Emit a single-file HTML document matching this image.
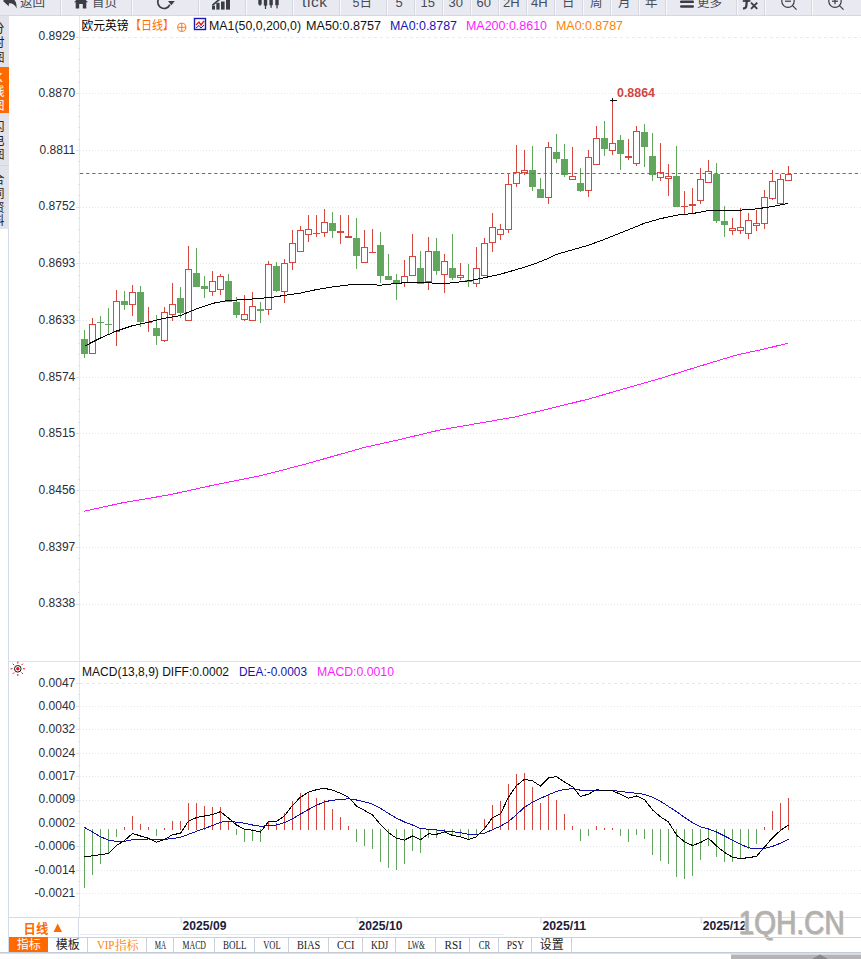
<!DOCTYPE html>
<html lang="zh"><head><meta charset="utf-8"><title>欧元英镑 日线</title>
<style>
html,body{margin:0;padding:0;background:#fff;}
body{width:861px;height:959px;overflow:hidden;position:relative;font-family:"Liberation Sans","Noto Sans CJK SC",sans-serif;}
#tb{position:absolute;left:0;top:0;width:861px;height:15px;background:#e9eaf1;border-bottom:1px solid #d6d8e0;overflow:hidden;}
#tb .sep{position:absolute;top:0;width:1px;height:15px;background:#d4d7df;border-right:1px solid #f8f9fb;}
#tb .t{position:absolute;font-size:13px;line-height:13px;color:#474b55;white-space:nowrap;}
#sb{position:absolute;left:0;top:16px;width:8.5px;height:213px;background:#e1e2ea;overflow:hidden;}
#sb .c{position:absolute;left:-7.6px;width:12px;font-size:12px;line-height:12px;color:#222;}
#sb .on{position:absolute;left:0;width:8.5px;top:51px;height:46px;background:#ff6a00;}
svg{position:absolute;left:0;top:0;}
.tab{position:absolute;top:937px;height:15px;box-sizing:border-box;border-right:1px solid #c9d1dc;font-family:"Liberation Mono","Noto Sans CJK SC",monospace;font-size:12px;line-height:15px;padding-top:1.5px;text-align:center;color:#222;white-space:nowrap;letter-spacing:-1.2px;}
.tab.cj{font-family:"Liberation Sans","Noto Sans CJK SC",sans-serif;letter-spacing:0;font-size:12px;padding-top:1px;}
</style></head><body>

<svg width="861" height="959" viewBox="0 0 861 959" font-family="'Liberation Sans','Noto Sans CJK SC',sans-serif">
<g stroke="#d3dbe6" stroke-width="1" fill="none" shape-rendering="crispEdges">
<line x1="8.5" y1="229" x2="8.5" y2="953"/>
<line x1="79.5" y1="16" x2="79.5" y2="917" stroke="#e2e8ef"/>
<line x1="9" y1="661.5" x2="861" y2="661.5" stroke="#dce3eb"/>
<line x1="9" y1="917.5" x2="861" y2="917.5"/>
<line x1="79.5" y1="934.5" x2="504" y2="934.5" stroke="#e6ebf1"/>
<line x1="78.5" y1="917" x2="78.5" y2="937"/>
</g>
<g stroke="#e2e7ed" stroke-width="1" fill="none">
<line x1="80" y1="37.5" x2="861" y2="37.5" stroke-dasharray="3 3" stroke="#e8ecf1"/>
<line x1="80" y1="93.5" x2="861" y2="93.5" stroke-dasharray="1 2"/>
<line x1="80" y1="150.5" x2="861" y2="150.5" stroke-dasharray="1 2"/>
<line x1="80" y1="207.5" x2="861" y2="207.5" stroke-dasharray="1 2"/>
<line x1="80" y1="263.5" x2="861" y2="263.5" stroke-dasharray="1 2"/>
<line x1="80" y1="320.5" x2="861" y2="320.5" stroke-dasharray="1 2"/>
<line x1="80" y1="377.5" x2="861" y2="377.5" stroke-dasharray="1 2"/>
<line x1="80" y1="433.5" x2="861" y2="433.5" stroke-dasharray="1 2"/>
<line x1="80" y1="490.5" x2="861" y2="490.5" stroke-dasharray="1 2"/>
<line x1="80" y1="547.5" x2="861" y2="547.5" stroke-dasharray="1 2"/>
<line x1="80" y1="604.5" x2="861" y2="604.5" stroke-dasharray="1 2"/>
<line x1="80" y1="683.5" x2="861" y2="683.5" stroke-dasharray="3 3"/>
<line x1="80" y1="706.5" x2="861" y2="706.5" stroke-dasharray="1 2"/>
<line x1="80" y1="729.5" x2="861" y2="729.5" stroke-dasharray="1 2"/>
<line x1="80" y1="753.5" x2="861" y2="753.5" stroke-dasharray="1 2"/>
<line x1="80" y1="776.5" x2="861" y2="776.5" stroke-dasharray="1 2"/>
<line x1="80" y1="800.5" x2="861" y2="800.5" stroke-dasharray="1 2"/>
<line x1="80" y1="823.5" x2="861" y2="823.5" stroke-dasharray="1 2"/>
<line x1="80" y1="846.5" x2="861" y2="846.5" stroke-dasharray="1 2"/>
<line x1="80" y1="870.5" x2="861" y2="870.5" stroke-dasharray="1 2"/>
<line x1="80" y1="893.5" x2="861" y2="893.5" stroke-dasharray="1 2"/>
</g>
<g stroke="#dbe2ea" stroke-width="1" shape-rendering="crispEdges">
<line x1="76" y1="37.5" x2="80" y2="37.5"/>
<line x1="77.5" y1="48.5" x2="80" y2="48.5"/>
<line x1="77.5" y1="59.5" x2="80" y2="59.5"/>
<line x1="77.5" y1="71.5" x2="80" y2="71.5"/>
<line x1="77.5" y1="82.5" x2="80" y2="82.5"/>
<line x1="76" y1="93.5" x2="80" y2="93.5"/>
<line x1="77.5" y1="105.5" x2="80" y2="105.5"/>
<line x1="77.5" y1="116.5" x2="80" y2="116.5"/>
<line x1="77.5" y1="127.5" x2="80" y2="127.5"/>
<line x1="77.5" y1="139.5" x2="80" y2="139.5"/>
<line x1="76" y1="150.5" x2="80" y2="150.5"/>
<line x1="77.5" y1="161.5" x2="80" y2="161.5"/>
<line x1="77.5" y1="173.5" x2="80" y2="173.5"/>
<line x1="77.5" y1="184.5" x2="80" y2="184.5"/>
<line x1="77.5" y1="195.5" x2="80" y2="195.5"/>
<line x1="76" y1="207.5" x2="80" y2="207.5"/>
<line x1="77.5" y1="218.5" x2="80" y2="218.5"/>
<line x1="77.5" y1="229.5" x2="80" y2="229.5"/>
<line x1="77.5" y1="241.5" x2="80" y2="241.5"/>
<line x1="77.5" y1="252.5" x2="80" y2="252.5"/>
<line x1="76" y1="263.5" x2="80" y2="263.5"/>
<line x1="77.5" y1="275.5" x2="80" y2="275.5"/>
<line x1="77.5" y1="286.5" x2="80" y2="286.5"/>
<line x1="77.5" y1="297.5" x2="80" y2="297.5"/>
<line x1="77.5" y1="309.5" x2="80" y2="309.5"/>
<line x1="76" y1="320.5" x2="80" y2="320.5"/>
<line x1="77.5" y1="331.5" x2="80" y2="331.5"/>
<line x1="77.5" y1="343.5" x2="80" y2="343.5"/>
<line x1="77.5" y1="354.5" x2="80" y2="354.5"/>
<line x1="77.5" y1="365.5" x2="80" y2="365.5"/>
<line x1="76" y1="377.5" x2="80" y2="377.5"/>
<line x1="77.5" y1="388.5" x2="80" y2="388.5"/>
<line x1="77.5" y1="399.5" x2="80" y2="399.5"/>
<line x1="77.5" y1="411.5" x2="80" y2="411.5"/>
<line x1="77.5" y1="422.5" x2="80" y2="422.5"/>
<line x1="76" y1="433.5" x2="80" y2="433.5"/>
<line x1="77.5" y1="445.5" x2="80" y2="445.5"/>
<line x1="77.5" y1="456.5" x2="80" y2="456.5"/>
<line x1="77.5" y1="467.5" x2="80" y2="467.5"/>
<line x1="77.5" y1="479.5" x2="80" y2="479.5"/>
<line x1="76" y1="490.5" x2="80" y2="490.5"/>
<line x1="77.5" y1="501.5" x2="80" y2="501.5"/>
<line x1="77.5" y1="513.5" x2="80" y2="513.5"/>
<line x1="77.5" y1="524.5" x2="80" y2="524.5"/>
<line x1="77.5" y1="535.5" x2="80" y2="535.5"/>
<line x1="76" y1="547.5" x2="80" y2="547.5"/>
<line x1="77.5" y1="558.5" x2="80" y2="558.5"/>
<line x1="77.5" y1="569.5" x2="80" y2="569.5"/>
<line x1="77.5" y1="581.5" x2="80" y2="581.5"/>
<line x1="77.5" y1="592.5" x2="80" y2="592.5"/>
<line x1="76" y1="604.5" x2="80" y2="604.5"/>
<line x1="76" y1="683.5" x2="80" y2="683.5"/>
<line x1="77.5" y1="694.5" x2="80" y2="694.5"/>
<line x1="76" y1="706.5" x2="80" y2="706.5"/>
<line x1="77.5" y1="718.5" x2="80" y2="718.5"/>
<line x1="76" y1="729.5" x2="80" y2="729.5"/>
<line x1="77.5" y1="741.5" x2="80" y2="741.5"/>
<line x1="76" y1="753.5" x2="80" y2="753.5"/>
<line x1="77.5" y1="765.5" x2="80" y2="765.5"/>
<line x1="76" y1="776.5" x2="80" y2="776.5"/>
<line x1="77.5" y1="788.5" x2="80" y2="788.5"/>
<line x1="76" y1="800.5" x2="80" y2="800.5"/>
<line x1="77.5" y1="811.5" x2="80" y2="811.5"/>
<line x1="76" y1="823.5" x2="80" y2="823.5"/>
<line x1="77.5" y1="835.5" x2="80" y2="835.5"/>
<line x1="76" y1="846.5" x2="80" y2="846.5"/>
<line x1="77.5" y1="858.5" x2="80" y2="858.5"/>
<line x1="76" y1="870.5" x2="80" y2="870.5"/>
<line x1="77.5" y1="881.5" x2="80" y2="881.5"/>
<line x1="76" y1="893.5" x2="80" y2="893.5"/>
<line x1="77.5" y1="905.5" x2="80" y2="905.5"/>
</g>
<polyline fill="none" stroke="#ff1aff" stroke-width="1" shape-rendering="crispEdges" points="84.4,511.2 122.5,502.8 168.9,494.9 215.4,484.7 261.8,475.4 285.1,469.4 308.3,463.3 336.2,455.4 364.0,447.5 401.2,439.2 438.4,430.3 477.2,423.5 514.3,417.1 551.5,408.2 588.7,399.0 625.8,388.3 663.0,377.6 700.2,366.0 737.3,354.8 765.2,348.8 788.0,343.2"/>
<g shape-rendering="crispEdges">
<rect x="84.0" y="330" width="1" height="28" fill="#61a65d"/>
<rect x="81.0" y="339" width="7" height="15" fill="#61a65d"/>
<rect x="92.0" y="318" width="1" height="6" fill="#d4463e"/>
<rect x="89.5" y="324.5" width="6" height="29" fill="#fff" stroke="#d4463e" stroke-width="1"/>
<rect x="100.0" y="316" width="1" height="21" fill="#61a65d"/>
<rect x="97.0" y="322" width="7" height="1" fill="#61a65d"/>
<rect x="108.0" y="308" width="1" height="26" fill="#61a65d"/>
<rect x="105.0" y="324" width="7" height="1" fill="#61a65d"/>
<rect x="116.0" y="290" width="1" height="11" fill="#d4463e"/>
<rect x="116.0" y="332" width="1" height="14" fill="#d4463e"/>
<rect x="113.5" y="301.5" width="6" height="30" fill="#fff" stroke="#d4463e" stroke-width="1"/>
<rect x="124.0" y="291" width="1" height="19" fill="#61a65d"/>
<rect x="121.0" y="301" width="7" height="4" fill="#61a65d"/>
<rect x="132.0" y="285" width="1" height="7" fill="#d4463e"/>
<rect x="132.0" y="305" width="1" height="11" fill="#d4463e"/>
<rect x="129.5" y="292.5" width="6" height="12" fill="#fff" stroke="#d4463e" stroke-width="1"/>
<rect x="140.0" y="286" width="1" height="41" fill="#61a65d"/>
<rect x="137.0" y="292" width="7" height="30" fill="#61a65d"/>
<rect x="148.0" y="307" width="1" height="15" fill="#d4463e"/>
<rect x="148.0" y="323" width="1" height="9" fill="#d4463e"/>
<rect x="145.0" y="322" width="7" height="1" fill="#d4463e"/>
<rect x="156.0" y="315" width="1" height="30" fill="#61a65d"/>
<rect x="153.0" y="328" width="7" height="8" fill="#61a65d"/>
<rect x="164.0" y="307" width="1" height="5" fill="#d4463e"/>
<rect x="164.0" y="341" width="1" height="1" fill="#d4463e"/>
<rect x="161.5" y="312.5" width="6" height="28" fill="#fff" stroke="#d4463e" stroke-width="1"/>
<rect x="172.0" y="283" width="1" height="21" fill="#d4463e"/>
<rect x="172.0" y="315" width="1" height="6" fill="#d4463e"/>
<rect x="169.5" y="304.5" width="6" height="10" fill="#fff" stroke="#d4463e" stroke-width="1"/>
<rect x="180.0" y="287" width="1" height="31" fill="#61a65d"/>
<rect x="177.0" y="298" width="7" height="15" fill="#61a65d"/>
<rect x="188.0" y="246" width="1" height="23" fill="#d4463e"/>
<rect x="185.5" y="269.5" width="6" height="51" fill="#fff" stroke="#d4463e" stroke-width="1"/>
<rect x="196.0" y="248" width="1" height="39" fill="#61a65d"/>
<rect x="193.0" y="273" width="7" height="14" fill="#61a65d"/>
<rect x="204.0" y="276" width="1" height="22" fill="#61a65d"/>
<rect x="201.0" y="286" width="7" height="3" fill="#61a65d"/>
<rect x="212.0" y="271" width="1" height="10" fill="#d4463e"/>
<rect x="212.0" y="292" width="1" height="4" fill="#d4463e"/>
<rect x="209.5" y="281.5" width="6" height="10" fill="#fff" stroke="#d4463e" stroke-width="1"/>
<rect x="220.0" y="274" width="1" height="2" fill="#d4463e"/>
<rect x="220.0" y="290" width="1" height="5" fill="#d4463e"/>
<rect x="217.5" y="276.5" width="6" height="13" fill="#fff" stroke="#d4463e" stroke-width="1"/>
<rect x="228.0" y="274" width="1" height="28" fill="#61a65d"/>
<rect x="225.0" y="281" width="7" height="21" fill="#61a65d"/>
<rect x="236.0" y="297" width="1" height="21" fill="#61a65d"/>
<rect x="233.0" y="302" width="7" height="13" fill="#61a65d"/>
<rect x="244.0" y="295" width="1" height="19" fill="#d4463e"/>
<rect x="244.0" y="320" width="1" height="1" fill="#d4463e"/>
<rect x="241.5" y="314.5" width="6" height="5" fill="#fff" stroke="#d4463e" stroke-width="1"/>
<rect x="252.0" y="292" width="1" height="14" fill="#d4463e"/>
<rect x="249.5" y="306.5" width="6" height="14" fill="#fff" stroke="#d4463e" stroke-width="1"/>
<rect x="260.0" y="302" width="1" height="21" fill="#61a65d"/>
<rect x="257.0" y="309" width="7" height="2" fill="#61a65d"/>
<rect x="268.0" y="261" width="1" height="3" fill="#d4463e"/>
<rect x="268.0" y="310" width="1" height="5" fill="#d4463e"/>
<rect x="265.5" y="264.5" width="6" height="45" fill="#fff" stroke="#d4463e" stroke-width="1"/>
<rect x="276.0" y="262" width="1" height="30" fill="#61a65d"/>
<rect x="273.0" y="266" width="7" height="25" fill="#61a65d"/>
<rect x="284.0" y="259" width="1" height="4" fill="#d4463e"/>
<rect x="284.0" y="292" width="1" height="11" fill="#d4463e"/>
<rect x="281.5" y="263.5" width="6" height="28" fill="#fff" stroke="#d4463e" stroke-width="1"/>
<rect x="292.0" y="230" width="1" height="13" fill="#d4463e"/>
<rect x="292.0" y="263" width="1" height="7" fill="#d4463e"/>
<rect x="289.5" y="243.5" width="6" height="19" fill="#fff" stroke="#d4463e" stroke-width="1"/>
<rect x="300.0" y="226" width="1" height="4" fill="#d4463e"/>
<rect x="297.5" y="230.5" width="6" height="21" fill="#fff" stroke="#d4463e" stroke-width="1"/>
<rect x="308.0" y="215" width="1" height="14" fill="#d4463e"/>
<rect x="308.0" y="235" width="1" height="7" fill="#d4463e"/>
<rect x="305.5" y="229.5" width="6" height="5" fill="#fff" stroke="#d4463e" stroke-width="1"/>
<rect x="316.0" y="215" width="1" height="18" fill="#d4463e"/>
<rect x="316.0" y="234" width="1" height="3" fill="#d4463e"/>
<rect x="313.0" y="233" width="7" height="1" fill="#d4463e"/>
<rect x="324.0" y="209" width="1" height="13" fill="#d4463e"/>
<rect x="324.0" y="233" width="1" height="4" fill="#d4463e"/>
<rect x="321.5" y="222.5" width="6" height="10" fill="#fff" stroke="#d4463e" stroke-width="1"/>
<rect x="332.0" y="212" width="1" height="26" fill="#61a65d"/>
<rect x="329.0" y="223" width="7" height="8" fill="#61a65d"/>
<rect x="340.0" y="215" width="1" height="16" fill="#d4463e"/>
<rect x="340.0" y="233" width="1" height="11" fill="#d4463e"/>
<rect x="337.0" y="231" width="7" height="2" fill="#d4463e"/>
<rect x="348.0" y="215" width="1" height="21" fill="#d4463e"/>
<rect x="345.0" y="236" width="7" height="2" fill="#d4463e"/>
<rect x="356.0" y="218" width="1" height="51" fill="#61a65d"/>
<rect x="353.0" y="238" width="7" height="18" fill="#61a65d"/>
<rect x="364.0" y="230" width="1" height="17" fill="#d4463e"/>
<rect x="361.5" y="247.5" width="6" height="15" fill="#fff" stroke="#d4463e" stroke-width="1"/>
<rect x="372.0" y="229" width="1" height="23" fill="#d4463e"/>
<rect x="369.0" y="252" width="7" height="1" fill="#d4463e"/>
<rect x="380.0" y="232" width="1" height="51" fill="#61a65d"/>
<rect x="377.0" y="245" width="7" height="31" fill="#61a65d"/>
<rect x="388.0" y="254" width="1" height="26" fill="#61a65d"/>
<rect x="385.0" y="276" width="7" height="4" fill="#61a65d"/>
<rect x="396.0" y="274" width="1" height="26" fill="#61a65d"/>
<rect x="393.0" y="280" width="7" height="3" fill="#61a65d"/>
<rect x="404.0" y="260" width="1" height="16" fill="#d4463e"/>
<rect x="404.0" y="283" width="1" height="4" fill="#d4463e"/>
<rect x="401.5" y="276.5" width="6" height="6" fill="#fff" stroke="#d4463e" stroke-width="1"/>
<rect x="412.0" y="234" width="1" height="22" fill="#d4463e"/>
<rect x="409.5" y="256.5" width="6" height="19" fill="#fff" stroke="#d4463e" stroke-width="1"/>
<rect x="420.0" y="251" width="1" height="33" fill="#61a65d"/>
<rect x="417.0" y="268" width="7" height="16" fill="#61a65d"/>
<rect x="428.0" y="237" width="1" height="14" fill="#d4463e"/>
<rect x="428.0" y="282" width="1" height="8" fill="#d4463e"/>
<rect x="425.5" y="251.5" width="6" height="30" fill="#fff" stroke="#d4463e" stroke-width="1"/>
<rect x="436.0" y="238" width="1" height="37" fill="#61a65d"/>
<rect x="433.0" y="251" width="7" height="20" fill="#61a65d"/>
<rect x="444.0" y="254" width="1" height="7" fill="#d4463e"/>
<rect x="444.0" y="275" width="1" height="18" fill="#d4463e"/>
<rect x="441.5" y="261.5" width="6" height="13" fill="#fff" stroke="#d4463e" stroke-width="1"/>
<rect x="452.0" y="234" width="1" height="46" fill="#61a65d"/>
<rect x="449.0" y="268" width="7" height="10" fill="#61a65d"/>
<rect x="460.0" y="263" width="1" height="12" fill="#d4463e"/>
<rect x="460.0" y="278" width="1" height="2" fill="#d4463e"/>
<rect x="457.5" y="275.5" width="6" height="2" fill="#fff" stroke="#d4463e" stroke-width="1"/>
<rect x="468.0" y="264" width="1" height="23" fill="#61a65d"/>
<rect x="465.0" y="280" width="7" height="2" fill="#61a65d"/>
<rect x="476.0" y="247" width="1" height="21" fill="#d4463e"/>
<rect x="476.0" y="284" width="1" height="3" fill="#d4463e"/>
<rect x="473.5" y="268.5" width="6" height="15" fill="#fff" stroke="#d4463e" stroke-width="1"/>
<rect x="484.0" y="238" width="1" height="5" fill="#d4463e"/>
<rect x="481.5" y="243.5" width="6" height="32" fill="#fff" stroke="#d4463e" stroke-width="1"/>
<rect x="492.0" y="213" width="1" height="14" fill="#d4463e"/>
<rect x="492.0" y="243" width="1" height="9" fill="#d4463e"/>
<rect x="489.5" y="227.5" width="6" height="15" fill="#fff" stroke="#d4463e" stroke-width="1"/>
<rect x="500.0" y="224" width="1" height="5" fill="#d4463e"/>
<rect x="500.0" y="235" width="1" height="5" fill="#d4463e"/>
<rect x="497.5" y="229.5" width="6" height="5" fill="#fff" stroke="#d4463e" stroke-width="1"/>
<rect x="508.0" y="174" width="1" height="10" fill="#d4463e"/>
<rect x="508.0" y="230" width="1" height="3" fill="#d4463e"/>
<rect x="505.5" y="184.5" width="6" height="45" fill="#fff" stroke="#d4463e" stroke-width="1"/>
<rect x="516.0" y="145" width="1" height="27" fill="#d4463e"/>
<rect x="516.0" y="184" width="1" height="3" fill="#d4463e"/>
<rect x="513.5" y="172.5" width="6" height="11" fill="#fff" stroke="#d4463e" stroke-width="1"/>
<rect x="524.0" y="150" width="1" height="20" fill="#d4463e"/>
<rect x="524.0" y="173" width="1" height="2" fill="#d4463e"/>
<rect x="521.5" y="170.5" width="6" height="2" fill="#fff" stroke="#d4463e" stroke-width="1"/>
<rect x="532.0" y="146" width="1" height="45" fill="#61a65d"/>
<rect x="529.0" y="170" width="7" height="17" fill="#61a65d"/>
<rect x="540.0" y="178" width="1" height="20" fill="#61a65d"/>
<rect x="537.0" y="189" width="7" height="9" fill="#61a65d"/>
<rect x="548.0" y="142" width="1" height="5" fill="#d4463e"/>
<rect x="548.0" y="198" width="1" height="6" fill="#d4463e"/>
<rect x="545.5" y="147.5" width="6" height="50" fill="#fff" stroke="#d4463e" stroke-width="1"/>
<rect x="556.0" y="134" width="1" height="29" fill="#61a65d"/>
<rect x="553.0" y="152" width="7" height="7" fill="#61a65d"/>
<rect x="564.0" y="144" width="1" height="33" fill="#61a65d"/>
<rect x="561.0" y="159" width="7" height="16" fill="#61a65d"/>
<rect x="572.0" y="147" width="1" height="29" fill="#d4463e"/>
<rect x="569.5" y="176.5" width="6" height="3" fill="#fff" stroke="#d4463e" stroke-width="1"/>
<rect x="580.0" y="168" width="1" height="24" fill="#61a65d"/>
<rect x="577.0" y="183" width="7" height="8" fill="#61a65d"/>
<rect x="588.0" y="150" width="1" height="7" fill="#d4463e"/>
<rect x="588.0" y="191" width="1" height="6" fill="#d4463e"/>
<rect x="585.5" y="157.5" width="6" height="33" fill="#fff" stroke="#d4463e" stroke-width="1"/>
<rect x="596.0" y="126" width="1" height="12" fill="#d4463e"/>
<rect x="593.5" y="138.5" width="6" height="26" fill="#fff" stroke="#d4463e" stroke-width="1"/>
<rect x="604.0" y="121" width="1" height="35" fill="#61a65d"/>
<rect x="601.0" y="138" width="7" height="11" fill="#61a65d"/>
<rect x="612.0" y="100" width="1" height="43" fill="#d4463e"/>
<rect x="612.0" y="151" width="1" height="4" fill="#d4463e"/>
<rect x="609.5" y="143.5" width="6" height="7" fill="#fff" stroke="#d4463e" stroke-width="1"/>
<rect x="620.0" y="135" width="1" height="35" fill="#61a65d"/>
<rect x="617.0" y="140" width="7" height="14" fill="#61a65d"/>
<rect x="628.0" y="139" width="1" height="17" fill="#d4463e"/>
<rect x="628.0" y="158" width="1" height="2" fill="#d4463e"/>
<rect x="625.0" y="156" width="7" height="2" fill="#d4463e"/>
<rect x="636.0" y="126" width="1" height="5" fill="#d4463e"/>
<rect x="636.0" y="164" width="1" height="2" fill="#d4463e"/>
<rect x="633.5" y="131.5" width="6" height="32" fill="#fff" stroke="#d4463e" stroke-width="1"/>
<rect x="644.0" y="124" width="1" height="43" fill="#61a65d"/>
<rect x="641.0" y="132" width="7" height="15" fill="#61a65d"/>
<rect x="652.0" y="133" width="1" height="48" fill="#61a65d"/>
<rect x="649.0" y="156" width="7" height="19" fill="#61a65d"/>
<rect x="660.0" y="143" width="1" height="29" fill="#d4463e"/>
<rect x="660.0" y="178" width="1" height="3" fill="#d4463e"/>
<rect x="657.5" y="172.5" width="6" height="5" fill="#fff" stroke="#d4463e" stroke-width="1"/>
<rect x="668.0" y="164" width="1" height="12" fill="#d4463e"/>
<rect x="668.0" y="179" width="1" height="17" fill="#d4463e"/>
<rect x="665.5" y="176.5" width="6" height="2" fill="#fff" stroke="#d4463e" stroke-width="1"/>
<rect x="676.0" y="146" width="1" height="61" fill="#61a65d"/>
<rect x="673.0" y="176" width="7" height="31" fill="#61a65d"/>
<rect x="684.0" y="191" width="1" height="15" fill="#d4463e"/>
<rect x="684.0" y="207" width="1" height="7" fill="#d4463e"/>
<rect x="681.0" y="206" width="7" height="1" fill="#d4463e"/>
<rect x="692.0" y="188" width="1" height="16" fill="#d4463e"/>
<rect x="692.0" y="206" width="1" height="8" fill="#d4463e"/>
<rect x="689.0" y="204" width="7" height="2" fill="#d4463e"/>
<rect x="700.0" y="168" width="1" height="11" fill="#d4463e"/>
<rect x="700.0" y="201" width="1" height="3" fill="#d4463e"/>
<rect x="697.5" y="179.5" width="6" height="21" fill="#fff" stroke="#d4463e" stroke-width="1"/>
<rect x="708.0" y="160" width="1" height="11" fill="#d4463e"/>
<rect x="705.5" y="171.5" width="6" height="11" fill="#fff" stroke="#d4463e" stroke-width="1"/>
<rect x="716.0" y="163" width="1" height="60" fill="#61a65d"/>
<rect x="713.0" y="174" width="7" height="47" fill="#61a65d"/>
<rect x="724.0" y="206" width="1" height="31" fill="#61a65d"/>
<rect x="721.0" y="221" width="7" height="4" fill="#61a65d"/>
<rect x="732.0" y="218" width="1" height="10" fill="#d4463e"/>
<rect x="732.0" y="231" width="1" height="4" fill="#d4463e"/>
<rect x="729.5" y="228.5" width="6" height="2" fill="#fff" stroke="#d4463e" stroke-width="1"/>
<rect x="740.0" y="208" width="1" height="19" fill="#d4463e"/>
<rect x="740.0" y="231" width="1" height="3" fill="#d4463e"/>
<rect x="737.5" y="227.5" width="6" height="3" fill="#fff" stroke="#d4463e" stroke-width="1"/>
<rect x="748.0" y="213" width="1" height="7" fill="#d4463e"/>
<rect x="748.0" y="234" width="1" height="5" fill="#d4463e"/>
<rect x="745.5" y="220.5" width="6" height="13" fill="#fff" stroke="#d4463e" stroke-width="1"/>
<rect x="756.0" y="210" width="1" height="13" fill="#d4463e"/>
<rect x="756.0" y="226" width="1" height="5" fill="#d4463e"/>
<rect x="753.5" y="223.5" width="6" height="2" fill="#fff" stroke="#d4463e" stroke-width="1"/>
<rect x="764.0" y="190" width="1" height="7" fill="#d4463e"/>
<rect x="764.0" y="224" width="1" height="5" fill="#d4463e"/>
<rect x="761.5" y="197.5" width="6" height="26" fill="#fff" stroke="#d4463e" stroke-width="1"/>
<rect x="772.0" y="170" width="1" height="11" fill="#d4463e"/>
<rect x="772.0" y="199" width="1" height="1" fill="#d4463e"/>
<rect x="769.5" y="181.5" width="6" height="17" fill="#fff" stroke="#d4463e" stroke-width="1"/>
<rect x="780.0" y="174" width="1" height="5" fill="#d4463e"/>
<rect x="777.5" y="179.5" width="6" height="24" fill="#fff" stroke="#d4463e" stroke-width="1"/>
<rect x="788.0" y="166" width="1" height="8" fill="#d4463e"/>
<rect x="785.5" y="174.5" width="6" height="6" fill="#fff" stroke="#d4463e" stroke-width="1"/>
</g>
<line x1="80" y1="173.5" x2="861" y2="173.5" stroke="#1a7ff0" stroke-width="1.2" stroke-dasharray="3.3 2.8"/>
<polyline fill="none" stroke="#000" stroke-width="1" shape-rendering="crispEdges" points="84.6,346.1 100.4,338.0 116.6,331.0 132.4,325.7 148.5,322.2 164.3,318.3 180.5,315.5 196.3,309.0 212.4,303.4 228.4,300.4 244.4,299.7 260.4,298.3 272.3,297.3 284.3,295.4 300.4,293.1 316.4,289.6 332.4,286.9 352.4,284.5 367.5,284.5 380.5,285.2 396.3,283.4 412.3,282.2 428.4,282.9 444.4,283.4 452.3,282.8 468.3,280.9 484.3,277.7 500.3,274.2 516.4,269.6 532.4,264.7 548.4,258.4 556.3,254.5 572.4,249.8 588.4,245.2 604.4,239.4 620.4,232.9 628.3,229.8 644.3,223.3 660.4,218.7 676.4,215.2 692.4,213.6 708.4,210.5 724.5,210.5 740.5,210.1 756.3,208.9 772.3,206.6 788.0,203.3"/>
<g stroke="#111" stroke-width="1" shape-rendering="crispEdges"><line x1="610" y1="100.5" x2="617" y2="100.5"/><line x1="612.5" y1="98" x2="612.5" y2="102"/></g>
<text x="617" y="97" font-size="12" font-weight="bold" fill="#d0453f" textLength="38" lengthAdjust="spacingAndGlyphs">0.8864</text>
<g shape-rendering="crispEdges">
<rect x="84.0" y="829" width="1" height="59" fill="#61a65d"/>
<rect x="92.0" y="829" width="1" height="46" fill="#61a65d"/>
<rect x="100.0" y="829" width="1" height="35" fill="#61a65d"/>
<rect x="108.0" y="829" width="1" height="25" fill="#61a65d"/>
<rect x="116.0" y="829" width="1" height="8" fill="#61a65d"/>
<rect x="124.0" y="827" width="1" height="3" fill="#d4463e"/>
<rect x="132.0" y="816" width="1" height="14" fill="#d4463e"/>
<rect x="140.0" y="824" width="1" height="6" fill="#d4463e"/>
<rect x="148.0" y="827" width="1" height="3" fill="#d4463e"/>
<rect x="156.0" y="829" width="1" height="7" fill="#61a65d"/>
<rect x="164.0" y="828" width="1" height="2" fill="#d4463e"/>
<rect x="172.0" y="821" width="1" height="9" fill="#d4463e"/>
<rect x="180.0" y="821" width="1" height="9" fill="#d4463e"/>
<rect x="188.0" y="803" width="1" height="27" fill="#d4463e"/>
<rect x="196.0" y="803" width="1" height="27" fill="#d4463e"/>
<rect x="204.0" y="806" width="1" height="24" fill="#d4463e"/>
<rect x="212.0" y="807" width="1" height="23" fill="#d4463e"/>
<rect x="220.0" y="807" width="1" height="23" fill="#d4463e"/>
<rect x="228.0" y="821" width="1" height="9" fill="#d4463e"/>
<rect x="236.0" y="829" width="1" height="6" fill="#61a65d"/>
<rect x="244.0" y="829" width="1" height="13" fill="#61a65d"/>
<rect x="252.0" y="829" width="1" height="12" fill="#61a65d"/>
<rect x="260.0" y="829" width="1" height="13" fill="#61a65d"/>
<rect x="268.0" y="821" width="1" height="9" fill="#d4463e"/>
<rect x="276.0" y="823" width="1" height="7" fill="#d4463e"/>
<rect x="284.0" y="813" width="1" height="17" fill="#d4463e"/>
<rect x="292.0" y="801" width="1" height="29" fill="#d4463e"/>
<rect x="300.0" y="793" width="1" height="37" fill="#d4463e"/>
<rect x="308.0" y="792" width="1" height="38" fill="#d4463e"/>
<rect x="316.0" y="798" width="1" height="32" fill="#d4463e"/>
<rect x="324.0" y="800" width="1" height="30" fill="#d4463e"/>
<rect x="332.0" y="809" width="1" height="21" fill="#d4463e"/>
<rect x="340.0" y="817" width="1" height="13" fill="#d4463e"/>
<rect x="348.0" y="826" width="1" height="4" fill="#d4463e"/>
<rect x="356.0" y="829" width="1" height="13" fill="#61a65d"/>
<rect x="364.0" y="829" width="1" height="17" fill="#61a65d"/>
<rect x="372.0" y="829" width="1" height="20" fill="#61a65d"/>
<rect x="380.0" y="829" width="1" height="33" fill="#61a65d"/>
<rect x="388.0" y="829" width="1" height="39" fill="#61a65d"/>
<rect x="396.0" y="829" width="1" height="41" fill="#61a65d"/>
<rect x="404.0" y="829" width="1" height="35" fill="#61a65d"/>
<rect x="412.0" y="829" width="1" height="22" fill="#61a65d"/>
<rect x="420.0" y="829" width="1" height="24" fill="#61a65d"/>
<rect x="428.0" y="829" width="1" height="9" fill="#61a65d"/>
<rect x="436.0" y="829" width="1" height="9" fill="#61a65d"/>
<rect x="444.0" y="829" width="1" height="4" fill="#61a65d"/>
<rect x="452.0" y="829" width="1" height="7" fill="#61a65d"/>
<rect x="460.0" y="829" width="1" height="8" fill="#61a65d"/>
<rect x="468.0" y="829" width="1" height="10" fill="#61a65d"/>
<rect x="476.0" y="829" width="1" height="5" fill="#61a65d"/>
<rect x="484.0" y="819" width="1" height="11" fill="#d4463e"/>
<rect x="492.0" y="805" width="1" height="25" fill="#d4463e"/>
<rect x="500.0" y="801" width="1" height="29" fill="#d4463e"/>
<rect x="508.0" y="784" width="1" height="46" fill="#d4463e"/>
<rect x="516.0" y="774" width="1" height="56" fill="#d4463e"/>
<rect x="524.0" y="773" width="1" height="57" fill="#d4463e"/>
<rect x="532.0" y="787" width="1" height="43" fill="#d4463e"/>
<rect x="540.0" y="803" width="1" height="27" fill="#d4463e"/>
<rect x="548.0" y="795" width="1" height="35" fill="#d4463e"/>
<rect x="556.0" y="800" width="1" height="30" fill="#d4463e"/>
<rect x="564.0" y="814" width="1" height="16" fill="#d4463e"/>
<rect x="572.0" y="826" width="1" height="4" fill="#d4463e"/>
<rect x="580.0" y="829" width="1" height="12" fill="#61a65d"/>
<rect x="588.0" y="829" width="1" height="7" fill="#61a65d"/>
<rect x="596.0" y="826" width="1" height="4" fill="#d4463e"/>
<rect x="604.0" y="828" width="1" height="2" fill="#d4463e"/>
<rect x="612.0" y="828" width="1" height="2" fill="#d4463e"/>
<rect x="620.0" y="829" width="1" height="7" fill="#61a65d"/>
<rect x="628.0" y="829" width="1" height="13" fill="#61a65d"/>
<rect x="636.0" y="829" width="1" height="6" fill="#61a65d"/>
<rect x="644.0" y="829" width="1" height="10" fill="#61a65d"/>
<rect x="652.0" y="829" width="1" height="26" fill="#61a65d"/>
<rect x="660.0" y="829" width="1" height="32" fill="#61a65d"/>
<rect x="668.0" y="829" width="1" height="35" fill="#61a65d"/>
<rect x="676.0" y="829" width="1" height="48" fill="#61a65d"/>
<rect x="684.0" y="829" width="1" height="50" fill="#61a65d"/>
<rect x="692.0" y="829" width="1" height="47" fill="#61a65d"/>
<rect x="700.0" y="829" width="1" height="31" fill="#61a65d"/>
<rect x="708.0" y="829" width="1" height="17" fill="#61a65d"/>
<rect x="716.0" y="829" width="1" height="28" fill="#61a65d"/>
<rect x="724.0" y="829" width="1" height="33" fill="#61a65d"/>
<rect x="732.0" y="829" width="1" height="33" fill="#61a65d"/>
<rect x="740.0" y="829" width="1" height="30" fill="#61a65d"/>
<rect x="748.0" y="829" width="1" height="20" fill="#61a65d"/>
<rect x="756.0" y="829" width="1" height="15" fill="#61a65d"/>
<rect x="764.0" y="827" width="1" height="3" fill="#d4463e"/>
<rect x="772.0" y="811" width="1" height="19" fill="#d4463e"/>
<rect x="780.0" y="803" width="1" height="27" fill="#d4463e"/>
<rect x="788.0" y="798" width="1" height="32" fill="#d4463e"/>
</g>
<polyline fill="none" stroke="#1010a8" stroke-width="1" shape-rendering="crispEdges" points="84.5,827.4 92.5,832.0 100.5,836.7 108.5,840.1 116.5,841.5 124.5,841.3 132.5,839.7 140.5,839.4 148.5,839.0 156.5,839.7 164.5,839.4 172.5,838.5 180.5,837.3 188.5,834.3 196.5,831.3 204.5,828.5 212.5,825.5 220.5,822.3 228.5,821.1 236.5,822.3 244.5,823.2 252.5,825.0 260.5,826.3 268.5,825.6 276.5,825.0 284.5,822.7 292.5,818.8 300.5,814.1 308.5,809.5 316.5,805.3 324.5,801.8 332.5,800.2 340.5,799.5 348.5,798.8 356.5,800.0 364.5,801.8 372.5,804.1 380.5,808.3 388.5,813.4 396.5,818.1 404.5,822.0 412.5,825.0 420.5,828.5 428.5,829.2 436.5,830.0 444.5,831.0 452.5,831.6 460.5,832.7 468.5,834.3 476.5,834.3 484.5,833.2 492.5,829.7 500.5,826.2 508.5,821.6 516.5,814.6 524.5,807.2 532.5,802.3 540.5,798.3 548.5,794.8 556.5,791.4 564.5,789.5 572.5,788.6 580.5,790.2 588.5,790.9 596.5,790.4 604.5,790.4 612.5,790.4 620.5,791.4 628.5,792.5 636.5,793.2 644.5,794.4 652.5,797.2 660.5,801.3 668.5,806.5 676.5,811.6 684.5,817.4 692.5,822.7 700.5,826.9 708.5,829.0 716.5,832.0 724.5,836.0 732.5,840.1 740.5,844.3 748.5,847.8 756.5,848.7 764.5,848.3 772.5,846.4 780.5,843.2 788.5,839.4"/>
<polyline fill="none" stroke="#000" stroke-width="1" shape-rendering="crispEdges" points="84.5,856.4 92.5,855.9 100.5,854.5 108.5,853.6 116.5,845.5 124.5,840.6 132.5,833.4 140.5,836.0 148.5,838.3 156.5,842.2 164.5,839.4 172.5,834.8 180.5,833.2 188.5,821.1 196.5,817.6 204.5,816.0 212.5,814.6 220.5,811.6 228.5,818.1 236.5,825.0 244.5,829.2 252.5,830.2 260.5,832.0 268.5,821.6 276.5,821.6 284.5,815.7 292.5,805.3 300.5,797.2 308.5,792.1 316.5,789.7 324.5,788.3 332.5,790.2 340.5,793.2 348.5,797.2 356.5,806.0 364.5,810.4 372.5,815.0 380.5,824.6 388.5,832.5 396.5,838.3 404.5,840.1 412.5,836.0 420.5,839.7 428.5,833.9 436.5,834.3 444.5,831.8 452.5,835.5 460.5,836.7 468.5,839.7 476.5,836.7 484.5,828.5 492.5,817.6 500.5,813.9 508.5,797.2 516.5,785.6 524.5,779.3 532.5,780.9 540.5,786.2 548.5,777.9 556.5,776.7 564.5,782.1 572.5,786.7 580.5,796.5 588.5,794.1 596.5,789.7 604.5,790.7 612.5,790.7 620.5,794.4 628.5,798.1 636.5,796.0 644.5,799.5 652.5,809.9 660.5,816.9 668.5,822.0 676.5,835.0 684.5,841.8 692.5,845.5 700.5,842.5 708.5,838.3 716.5,845.9 724.5,852.4 732.5,857.1 740.5,858.7 748.5,857.6 756.5,856.4 764.5,847.1 772.5,837.8 780.5,830.4 788.5,825.0"/>
<g font-size="12" fill="#2b2d3a" text-anchor="end">
<text x="75.3" y="40.2">0.8929</text>
<text x="75.3" y="96.9">0.8870</text>
<text x="75.3" y="153.6">0.8811</text>
<text x="75.3" y="210.4">0.8752</text>
<text x="75.3" y="267.1">0.8693</text>
<text x="75.3" y="323.8">0.8633</text>
<text x="75.3" y="380.5">0.8574</text>
<text x="75.3" y="437.2">0.8515</text>
<text x="75.3" y="494.0">0.8456</text>
<text x="75.3" y="550.7">0.8397</text>
<text x="75.3" y="607.4">0.8338</text>
<text x="75.3" y="686.5">0.0047</text>
<text x="75.3" y="709.9">0.0040</text>
<text x="75.3" y="733.3">0.0032</text>
<text x="75.3" y="756.6">0.0024</text>
<text x="75.3" y="780.0">0.0017</text>
<text x="75.3" y="803.4">0.0009</text>
<text x="75.3" y="826.8">0.0002</text>
<text x="75.3" y="850.2">-0.0006</text>
<text x="75.3" y="873.5">-0.0014</text>
<text x="75.3" y="896.9">-0.0021</text>
</g>
<g font-size="12">
<text x="81.5" y="30" fill="#000" textLength="47" lengthAdjust="spacingAndGlyphs">欧元英镑</text>
<text x="130" y="30" fill="#ff6a00" textLength="44" lengthAdjust="spacingAndGlyphs">【日线】</text>
<text x="209" y="29.5" fill="#111" textLength="92" lengthAdjust="spacingAndGlyphs">MA1(50,0,200,0)</text>
<text x="306" y="29.5" fill="#111" textLength="75" lengthAdjust="spacingAndGlyphs">MA50:0.8757</text>
<text x="390" y="29.5" fill="#1414b4" textLength="67" lengthAdjust="spacingAndGlyphs">MA0:0.8787</text>
<text x="466" y="29.5" fill="#ff1aff" textLength="81" lengthAdjust="spacingAndGlyphs">MA200:0.8610</text>
<text x="556" y="29.5" fill="#ff7f00" textLength="67" lengthAdjust="spacingAndGlyphs">MA0:0.8787</text>
<text x="82" y="676" fill="#111" textLength="147" lengthAdjust="spacingAndGlyphs">MACD(13,8,9) DIFF:0.0002</text>
<text x="239" y="676" fill="#1414b4" textLength="68" lengthAdjust="spacingAndGlyphs">DEA:-0.0003</text>
<text x="317" y="676" fill="#ff1aff" textLength="77" lengthAdjust="spacingAndGlyphs">MACD:0.0010</text>
</g>
<g stroke="#ff6a00" stroke-width="0.9" fill="none"><circle cx="181.8" cy="27.3" r="4.1"/><line x1="177.7" y1="27.3" x2="185.9" y2="27.3"/><line x1="181.8" y1="23.2" x2="181.8" y2="31.4"/></g>
<g><rect x="194.5" y="18.5" width="11" height="11" fill="#fff" stroke="#1a1ab0" stroke-width="1.4"/><polyline points="196,25 199,22 201,25 204,21" fill="none" stroke="#e02020" stroke-width="1.4"/><polyline points="196,28 199,25.5 201,28 204,25" fill="none" stroke="#1a1ab0" stroke-width="1"/></g>
<g><circle cx="17.8" cy="668.8" r="3.3" fill="#fff" stroke="#111" stroke-width="1"/><circle cx="17.8" cy="668.8" r="1.7" fill="#f01010"/><g stroke="#f01010" stroke-width="1">
<line x1="23.00" y1="668.80" x2="25.00" y2="668.80"/>
<line x1="21.48" y1="672.48" x2="22.89" y2="673.89"/>
<line x1="17.80" y1="674.00" x2="17.80" y2="676.00"/>
<line x1="14.12" y1="672.48" x2="12.71" y2="673.89"/>
<line x1="12.60" y1="668.80" x2="10.60" y2="668.80"/>
<line x1="14.12" y1="665.12" x2="12.71" y2="663.71"/>
<line x1="17.80" y1="663.60" x2="17.80" y2="661.60"/>
<line x1="21.48" y1="665.12" x2="22.89" y2="663.71"/>
</g></g>
<g font-size="12" font-weight="bold" fill="#1c1d3c">
<line x1="181.1" y1="918" x2="181.1" y2="923" stroke="#cfd7e2" stroke-width="1"/>
<text x="182.6" y="929.7" textLength="43.8" lengthAdjust="spacingAndGlyphs">2025/09</text>
<line x1="357.1" y1="918" x2="357.1" y2="923" stroke="#cfd7e2" stroke-width="1"/>
<text x="358.6" y="929.7" textLength="43.8" lengthAdjust="spacingAndGlyphs">2025/10</text>
<line x1="540.9" y1="918" x2="540.9" y2="923" stroke="#cfd7e2" stroke-width="1"/>
<text x="542.4" y="929.7" textLength="43.8" lengthAdjust="spacingAndGlyphs">2025/11</text>
<line x1="701.2" y1="918" x2="701.2" y2="923" stroke="#cfd7e2" stroke-width="1"/>
<text x="702.7" y="929.7" textLength="43.8" lengthAdjust="spacingAndGlyphs">2025/12</text>
</g>
<text x="23.6" y="933" font-size="13" font-weight="bold" fill="#ff6a00" textLength="24.6" lengthAdjust="spacingAndGlyphs">日线</text>
<polygon points="53.5,932 62,932 57.7,923.5" fill="#ff6a00"/>
<text x="738.5" y="934" font-size="33" fill="#fff" stroke="#fff" stroke-width="2.6" opacity="0.75" textLength="106" lengthAdjust="spacingAndGlyphs">1QH.CN</text>
<text x="739.5" y="934.6" font-size="33" fill="#9b7d62" opacity="0.35" textLength="106" lengthAdjust="spacingAndGlyphs">1QH.CN</text>
<text x="738.5" y="934" font-size="33" fill="#b2b1b0" stroke="#b2b1b0" stroke-width="0.7" textLength="106" lengthAdjust="spacingAndGlyphs">1QH.CN</text>
<rect x="0" y="952" width="861" height="1.6" fill="#c5cbd6"/>
<rect x="731" y="954.5" width="130" height="5" fill="#b3b3b8"/>
<polygon points="812,959 820,954.5 828,959" fill="#88888c"/>
<line x1="9" y1="937.5" x2="861" y2="937.5" stroke="#c9d1dc" stroke-width="1"/>
</svg>
<div id="tb">
<div class="sep" style="left:59.5px"></div>
<div class="sep" style="left:130.5px"></div>
<div class="sep" style="left:198.0px"></div>
<div class="sep" style="left:244.5px"></div>
<div class="sep" style="left:291.5px"></div>
<div class="sep" style="left:338.8px"></div>
<div class="sep" style="left:385.8px"></div>
<div class="sep" style="left:413.8px"></div>
<div class="sep" style="left:442.0px"></div>
<div class="sep" style="left:470.2px"></div>
<div class="sep" style="left:498.2px"></div>
<div class="sep" style="left:526.1px"></div>
<div class="sep" style="left:553.8px"></div>
<div class="sep" style="left:581.8px"></div>
<div class="sep" style="left:609.8px"></div>
<div class="sep" style="left:638.0px"></div>
<div class="sep" style="left:665.1px"></div>
<div class="sep" style="left:736.1px"></div>
<div class="sep" style="left:764.2px"></div>
<div class="sep" style="left:810.8px"></div>
<div class="t" style="left:20px;top:-3.2px;font-size:12.5px;">返回</div>
<div class="t" style="left:92px;top:-3.2px;font-size:12.5px;">首页</div>
<div class="t" style="left:302px;top:-5px;font-size:15.5px;letter-spacing:.6px">tick</div>
<div class="t" style="left:352.5px;top:-3.2px;font-size:12.5px;">5日</div>
<div class="t" style="left:395.5px;top:-3.9px;font-size:13px;">5</div>
<div class="t" style="left:420.5px;top:-3.9px;font-size:13px;">15</div>
<div class="t" style="left:448.5px;top:-3.9px;font-size:13px;">30</div>
<div class="t" style="left:476.5px;top:-3.9px;font-size:13px;">60</div>
<div class="t" style="left:503px;top:-3.9px;font-size:13px;">2H</div>
<div class="t" style="left:531px;top:-3.9px;font-size:13px;">4H</div>
<div class="t" style="left:562px;top:-3.2px;font-size:12.5px;">日</div>
<div class="t" style="left:590px;top:-3.2px;font-size:12.5px;">周</div>
<div class="t" style="left:618px;top:-3.2px;font-size:12.5px;">月</div>
<div class="t" style="left:645px;top:-3.2px;font-size:12.5px;">年</div>
<div class="t" style="left:697px;top:-3.2px;font-size:12.5px;">更多</div>
<svg width="861" height="15" viewBox="0 0 861 15">
<g fill="#3a3d45" stroke="none">
<path d="M3 1 L9 -5 L9 -1.8 Q17 -2 16.6 8.4 Q14 3 9 3.4 L8.7 6.3 Z"/>
<path d="M74 2.2 L81 -4.5 L88 2.2 L86.3 2.2 L86.3 8.6 L82.8 8.6 L82.8 4 L79.2 4 L79.2 8.6 L75.7 8.6 L75.7 2.2 Z"/>
<rect x="212" y="5.6" width="3" height="4"/><rect x="216.3" y="2.8" width="3.3" height="6.8"/><rect x="221" y="1.5" width="3.6" height="8.1"/><rect x="226" y="-3" width="4" height="12.6"/><path d="M212 4.6 L222 -4 L223.5 -2.8 L212.8 6 Z"/>
<rect x="258.3" y="-3" width="3.4" height="7.6"/><rect x="259.35" y="-6" width="1.3" height="11.8"/><rect x="263.8" y="0" width="3.4" height="5.6"/><rect x="264.85" y="-6" width="1.3" height="15"/><rect x="269.4" y="-2" width="3.4" height="7.2"/><rect x="270.45" y="-6" width="1.3" height="13.8"/><rect x="275.3" y="-1" width="3.4" height="6.2"/><rect x="276.35" y="-6" width="1.3" height="14.4"/>
<rect x="680" y="0.6" width="14" height="2.5" rx="1.2"/><rect x="680" y="5.2" width="14" height="2.6" rx="1.2"/>
</g>
<g fill="none" stroke="#3a3d45" stroke-width="1.7"><path d="M161 -3.3 A6.3 6.3 0 1 0 169.9 4.6"/></g><polygon points="168,1.1 174.8,1.1 171.4,5.2" fill="#3a3d45"/>
<path d="M751 2.6 L757.2 8.8 M757.2 2.6 L751 8.8" stroke="#3a3d45" stroke-width="1.9" fill="none"/><path d="M750 -5 Q747.4 -5 747.1 -2 L746.3 6 Q746 8.6 743 8.3" stroke="#3a3d45" stroke-width="2.3" fill="none"/><path d="M742.8 1 L750.4 1" stroke="#3a3d45" stroke-width="1.8"/>
<g fill="none" stroke="#3a3d45" stroke-width="1.2"><circle cx="788" cy="1.2" r="6.2"/><line x1="792.5" y1="5.7" x2="796.5" y2="9.7"/><line x1="785" y1="1.2" x2="791" y2="1.2"/><circle cx="835" cy="1.2" r="6.2"/><line x1="839.5" y1="5.7" x2="843.5" y2="9.7"/><line x1="832" y1="1.2" x2="838" y2="1.2"/><line x1="835" y1="-2" x2="835" y2="4.2"/></g>
</svg>
</div>
<div id="sb"><div class="on"></div>
<div class="c" style="top:6.5px;left:-7.6px;color:#222">分</div>
<div class="c" style="top:21px;left:-7.6px;color:#222">时</div>
<div class="c" style="top:35.5px;left:-7.6px;color:#222">图</div>
<div class="c" style="top:56px;left:-5.3px;color:#fff">K</div>
<div class="c" style="top:70px;left:-7.6px;color:#fff">线</div>
<div class="c" style="top:84px;left:-7.6px;color:#fff">图</div>
<div class="c" style="top:104.5px;left:-7.6px;color:#222">闪</div>
<div class="c" style="top:119px;left:-7.6px;color:#222">电</div>
<div class="c" style="top:133px;left:-7.6px;color:#222">图</div>
<div class="c" style="top:158px;left:-7.6px;color:#222">合</div>
<div class="c" style="top:171.5px;left:-7.6px;color:#222">同</div>
<div class="c" style="top:185.5px;left:-7.6px;color:#222">资</div>
<div class="c" style="top:199px;left:-7.6px;color:#222">料</div>
<div style="position:absolute;left:0;top:149px;width:9px;height:1px;background:#cfd4dd"></div>
</div>
<svg width="861" height="959" viewBox="0 0 861 959" style="pointer-events:none">
<text x="96.9" y="949" font-size="12" fill="#ff7f00" font-family="'Liberation Serif',serif" textLength="17.5" lengthAdjust="spacingAndGlyphs">VIP</text>
<text x="114.9" y="949.5" font-size="12" fill="#ff7f00" font-family="'Noto Serif CJK SC','Noto Sans CJK SC',serif" textLength="23.5" lengthAdjust="spacingAndGlyphs">指标</text>
<text x="154.8" y="949" font-size="12" fill="#1a1a22" font-family="'Liberation Serif',serif" textLength="11.4" lengthAdjust="spacingAndGlyphs">MA</text>
<text x="182.6" y="949" font-size="12" fill="#1a1a22" font-family="'Liberation Serif',serif" textLength="23.4" lengthAdjust="spacingAndGlyphs">MACD</text>
<text x="223.1" y="949" font-size="12" fill="#1a1a22" font-family="'Liberation Serif',serif" textLength="23.4" lengthAdjust="spacingAndGlyphs">BOLL</text>
<text x="263.2" y="949" font-size="12" fill="#1a1a22" font-family="'Liberation Serif',serif" textLength="17.4" lengthAdjust="spacingAndGlyphs">VOL</text>
<text x="296.9" y="949" font-size="12" fill="#1a1a22" font-family="'Liberation Serif',serif" textLength="23.4" lengthAdjust="spacingAndGlyphs">BIAS</text>
<text x="337.0" y="949" font-size="12" fill="#1a1a22" font-family="'Liberation Serif',serif" textLength="17.4" lengthAdjust="spacingAndGlyphs">CCI</text>
<text x="370.9" y="949" font-size="12" fill="#1a1a22" font-family="'Liberation Serif',serif" textLength="17.4" lengthAdjust="spacingAndGlyphs">KDJ</text>
<text x="407.7" y="949" font-size="12" fill="#1a1a22" font-family="'Liberation Serif',serif" textLength="17.4" lengthAdjust="spacingAndGlyphs">LW&amp;</text>
<text x="444.6" y="949" font-size="12" fill="#1a1a22" font-family="'Liberation Serif',serif" textLength="17.4" lengthAdjust="spacingAndGlyphs">RSI</text>
<text x="478.8" y="949" font-size="12" fill="#1a1a22" font-family="'Liberation Serif',serif" textLength="11.4" lengthAdjust="spacingAndGlyphs">CR</text>
<text x="506.8" y="949" font-size="12" fill="#1a1a22" font-family="'Liberation Serif',serif" textLength="17.4" lengthAdjust="spacingAndGlyphs">PSY</text>
</svg>
<div class="tab cj" style="left:9px;width:39.4px;background:#ff6a00;color:#fff;border-right:none;">指标</div>
<div class="tab cj" style="left:48.4px;width:39.6px;">模板</div>
<div class="tab " style="left:88px;width:59.0px;color:#ff7f00;"></div>
<div class="tab " style="left:147px;width:27.0px;"></div>
<div class="tab " style="left:174px;width:40.5px;"></div>
<div class="tab " style="left:214.5px;width:40.5px;"></div>
<div class="tab " style="left:255px;width:33.7px;"></div>
<div class="tab " style="left:288.7px;width:39.9px;"></div>
<div class="tab " style="left:328.6px;width:34.2px;"></div>
<div class="tab " style="left:362.8px;width:33.7px;"></div>
<div class="tab " style="left:396.5px;width:39.7px;"></div>
<div class="tab " style="left:436.2px;width:34.2px;"></div>
<div class="tab " style="left:470.4px;width:28.3px;"></div>
<div class="tab " style="left:498.7px;width:33.7px;"></div>
<div class="tab cj" style="left:532.4px;width:39.9px;">设置</div>
</body></html>
